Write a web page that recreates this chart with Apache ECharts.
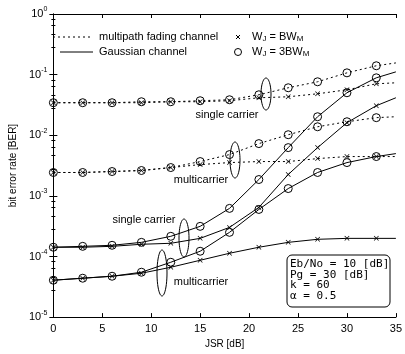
<!DOCTYPE html>
<html>
<head>
<meta charset="utf-8">
<script src="https://cdn.jsdelivr.net/npm/echarts@6/dist/echarts.min.js"></script>
<style>
  html, body { margin: 0; padding: 0; background: #fff; }
  #chart { width: 405px; height: 354px; }
</style>
</head>
<body>
<div id="chart"></div>
<script>
// JSR sample points [dB]; markers every 3 dB, curves run on to 35 dB
const jsr = [0, 3, 6, 9, 12, 15, 18, 21, 24, 27, 30, 33, 35];

// multipath fading channel, single carrier
const mpSingleBW  = [0.0344, 0.0344, 0.0344, 0.0344, 0.0357, 0.0357, 0.0371, 0.0415, 0.0431, 0.0483, 0.0562, 0.0706, 0.0733];
const mpSingle3BW = [0.0344, 0.0344, 0.0344, 0.0357, 0.0357, 0.0371, 0.0385, 0.0465, 0.0607, 0.0762, 0.107, 0.140, 0.156];
// multipath fading channel, multicarrier
const mpMultiBW   = [0.00243, 0.00243, 0.00252, 0.00262, 0.00293, 0.00328, 0.00354, 0.00368, 0.00368, 0.00412, 0.00445, 0.00445, 0.00445];
const mpMulti3BW  = [0.00243, 0.00243, 0.00252, 0.00262, 0.00293, 0.00368, 0.00480, 0.00728, 0.0102, 0.0138, 0.0167, 0.0195, 0.0202];
// Gaussian channel, single carrier
const gSingleBW   = [1.42e-4, 1.42e-4, 1.47e-4, 1.59e-4, 1.65e-4, 1.99e-4, 3.02e-4, 6.45e-4, 2.25e-3, 6.25e-3, 0.0161, 0.0307, 0.0415];
const gSingle3BW  = [1.42e-4, 1.47e-4, 1.53e-4, 1.71e-4, 2.15e-4, 3.14e-4, 6.21e-4, 1.86e-3, 6.25e-3, 0.0202, 0.0502, 0.0886, 0.111];
// Gaussian channel, multicarrier
const gMultiBW    = [4.06e-5, 4.38e-5, 4.72e-5, 5.29e-5, 6.64e-5, 8.66e-5, 1.13e-4, 1.42e-4, 1.71e-4, 1.92e-4, 1.99e-4, 1.99e-4, 1.99e-4];
const gMulti3BW   = [4.06e-5, 4.38e-5, 4.72e-5, 5.50e-5, 8.03e-5, 1.22e-4, 2.50e-4, 5.97e-4, 1.32e-3, 2.43e-3, 3.54e-3, 4.45e-3, 4.98e-3];

// axis ticks
const xTicks = { min: 0, max: 35, step: 5 };
const yDecades = { min: 1e-5, max: 1 };

const FONT = 'Liberation Sans, Arial, sans-serif';
const CROSS = 'path://M0,1L1,0L5,4L9,0L10,1L6,5L10,9L9,10L5,6L1,10L0,9L4,5Z';

function curve(name, values, dashed, mark) {
  const isCross = mark === 'cross';
  return {
    type: 'line',
    name: name,
    xAxisIndex: 0,
    yAxisIndex: 0,
    animation: false,
    showAllSymbol: true,
    symbol: isCross ? CROSS : 'circle',
    symbolSize: isCross ? 5 : 8,
    data: jsr.map((x, i) => {
      const item = { value: [x, values[i]] };
      if (x % 3 !== 0) item.symbol = 'none';
      return item;
    }),
    lineStyle: { color: '#000', width: 1, type: dashed ? [2, 3] : 'solid' },
    itemStyle: isCross
      ? { color: '#000', borderWidth: 0 }
      : { color: 'rgba(255,255,255,0)', borderColor: '#000', borderWidth: 1 },
    emphasis: { disabled: true },
    z: isCross ? 3 : 4
  };
}

// outline of an ellipse as a closed polygon
function ellipse(cx, cy, rx, ry) {
  const pts = [];
  for (let i = 0; i < 48; i++) {
    const a = i / 48 * Math.PI * 2;
    pts.push([cx + rx * Math.cos(a), cy + ry * Math.sin(a)]);
  }
  return { type: 'polygon', shape: { points: pts }, style: { fill: 'none', stroke: '#000', lineWidth: 1 }, z: 10 };
}

const chart = echarts.init(document.getElementById('chart'), null, { renderer: 'canvas' });

const tickStyle = { show: true, inside: true, length: 4, lineStyle: { color: '#000', width: 1 } };
const minorStyle = { show: true, splitNumber: 5, length: 2, lineStyle: { color: '#000', width: 1 } };

chart.setOption({
  backgroundColor: '#fff',
  animation: false,
  grid: { left: 47, right: 4, top: 14, bottom: 36 },
  xAxis: [
    {
      type: 'value', min: xTicks.min, max: xTicks.max, interval: xTicks.step,
      position: 'bottom',
      axisLine: { show: true, lineStyle: { color: '#000', width: 1 } },
      axisTick: tickStyle,
      axisLabel: { color: '#000', fontFamily: FONT, fontSize: 11, margin: 6 },
      splitLine: { show: false },
      name: 'JSR [dB]', nameLocation: 'middle', nameGap: 20,
      nameTextStyle: { color: '#000', fontFamily: FONT, fontSize: 10 }
    },
    {
      type: 'value', min: xTicks.min, max: xTicks.max, interval: xTicks.step,
      position: 'top',
      axisLine: { show: true, onZero: false, lineStyle: { color: '#000', width: 1 } },
      axisTick: tickStyle,
      axisLabel: { show: false },
      splitLine: { show: false }
    }
  ],
  yAxis: [
    {
      type: 'log', logBase: 10, min: yDecades.min, max: yDecades.max,
      position: 'left',
      axisLine: { show: true, lineStyle: { color: '#000', width: 1 } },
      axisTick: tickStyle,
      minorTick: minorStyle,
      axisLabel: {
        color: '#000', fontFamily: FONT, margin: 6,
        formatter: v => '{b|10}{s|' + Math.round(Math.log10(v)) + '}',
        rich: {
          b: { fontSize: 11, fontFamily: FONT, color: '#000' },
          s: { fontSize: 7, fontFamily: FONT, color: '#000', padding: [0, 0, 9, 0] }
        }
      },
      splitLine: { show: false },
      name: 'bit error rate [BER]', nameLocation: 'middle', nameGap: 27,
      nameTextStyle: { color: '#000', fontFamily: FONT, fontSize: 10 }
    },
    {
      type: 'log', logBase: 10, min: yDecades.min, max: yDecades.max,
      position: 'right',
      axisLine: { show: true, lineStyle: { color: '#000', width: 1 } },
      axisTick: tickStyle,
      minorTick: minorStyle,
      axisLabel: { show: false },
      splitLine: { show: false }
    }
  ],
  series: [
    curve('multipath single carrier, W_J = BW_M', mpSingleBW, true, 'cross'),
    curve('multipath single carrier, W_J = 3BW_M', mpSingle3BW, true, 'circle'),
    curve('multipath multicarrier, W_J = BW_M', mpMultiBW, true, 'cross'),
    curve('multipath multicarrier, W_J = 3BW_M', mpMulti3BW, true, 'circle'),
    curve('Gaussian single carrier, W_J = BW_M', gSingleBW, false, 'cross'),
    curve('Gaussian single carrier, W_J = 3BW_M', gSingle3BW, false, 'circle'),
    curve('Gaussian multicarrier, W_J = BW_M', gMultiBW, false, 'cross'),
    curve('Gaussian multicarrier, W_J = 3BW_M', gMulti3BW, false, 'circle')
  ],
  graphic: [
    // legend: line styles
    { type: 'line', shape: { x1: 53, y1: 37, x2: 93, y2: 37 }, style: { stroke: '#000', lineWidth: 1, lineDash: [2, 3] } },
    { type: 'text', style: { text: 'multipath fading channel', x: 99, y: 37, font: '11px ' + FONT, fill: '#000', textVerticalAlign: 'middle' } },
    { type: 'line', shape: { x1: 60, y1: 52, x2: 93, y2: 52 }, style: { stroke: '#000', lineWidth: 1 } },
    { type: 'text', style: { text: 'Gaussian channel', x: 99, y: 52, font: '11px ' + FONT, fill: '#000', textVerticalAlign: 'middle' } },
    // legend: markers
    { type: 'line', shape: { x1: 236, y1: 35, x2: 240, y2: 39 }, style: { stroke: '#000', lineWidth: 1 } },
    { type: 'line', shape: { x1: 240, y1: 35, x2: 236, y2: 39 }, style: { stroke: '#000', lineWidth: 1 } },
    { type: 'circle', shape: { cx: 238, cy: 52, r: 3.5 }, style: { fill: 'none', stroke: '#000', lineWidth: 1 } },
    {
      type: 'text',
      style: {
        text: '{n|W}{sub|J}{n| = BW}{sub|M}', x: 252, y: 37, textVerticalAlign: 'middle',
        rich: {
          n: { fontSize: 11, fontFamily: FONT, fill: '#000' },
          sub: { fontSize: 8, fontFamily: FONT, fill: '#000', padding: [3, 0, 0, 0] }
        }
      }
    },
    {
      type: 'text',
      style: {
        text: '{n|W}{sub|J}{n| = 3BW}{sub|M}', x: 252, y: 52, textVerticalAlign: 'middle',
        rich: {
          n: { fontSize: 11, fontFamily: FONT, fill: '#000' },
          sub: { fontSize: 8, fontFamily: FONT, fill: '#000', padding: [3, 0, 0, 0] }
        }
      }
    },
    // group annotations
    ellipse(266, 94, 5, 16),
    { type: 'text', style: { text: 'single carrier', x: 227, y: 115, font: '11px ' + FONT, fill: '#000', textAlign: 'center', textVerticalAlign: 'middle' } },
    ellipse(235, 160, 5, 18),
    { type: 'text', style: { text: 'multicarrier', x: 201, y: 180, font: '11px ' + FONT, fill: '#000', textAlign: 'center', textVerticalAlign: 'middle' } },
    ellipse(184, 238, 5, 19),
    { type: 'text', style: { text: 'single carrier', x: 144, y: 220, font: '11px ' + FONT, fill: '#000', textAlign: 'center', textVerticalAlign: 'middle' } },
    ellipse(162, 273, 5, 23),
    { type: 'text', style: { text: 'multicarrier', x: 201, y: 282, font: '11px ' + FONT, fill: '#000', textAlign: 'center', textVerticalAlign: 'middle' } },
    // parameter box
    { type: 'rect', shape: { x: 287, y: 255, width: 103, height: 52, r: 5 }, style: { fill: '#fff', stroke: '#000', lineWidth: 1 }, z: 20 },
    {
      type: 'text', z: 21,
      style: {
        text: 'Eb/No = 10 [dB]\nPg = 30 [dB]\nk = 60\n\u03b1 = 0.5',
        x: 290, y: 259, font: '11px DejaVu Sans Mono, monospace', lineHeight: 10.5, fill: '#000'
      }
    }
  ]
});
</script>
</body>
</html>
